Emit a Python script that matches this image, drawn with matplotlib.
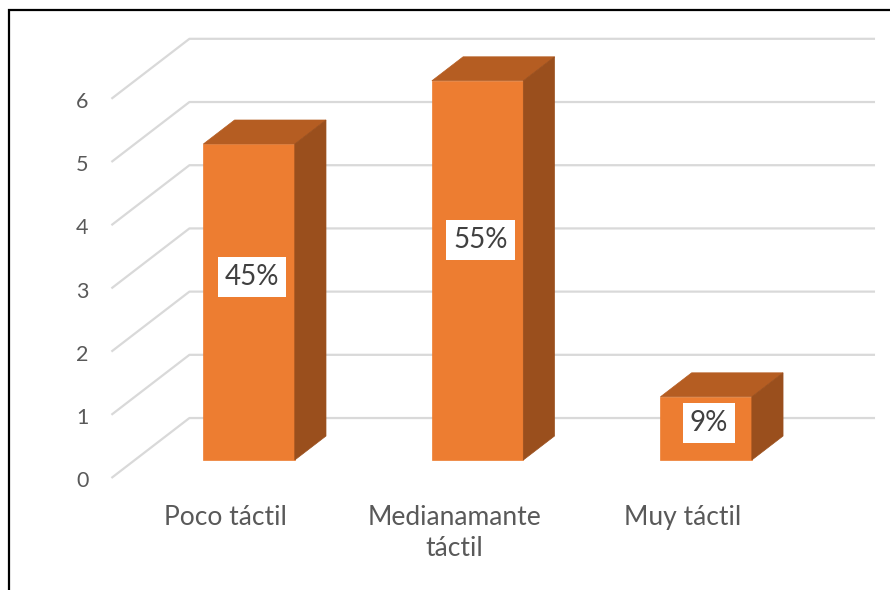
import matplotlib.pyplot as plt
from matplotlib.patches import Polygon, Rectangle

categories = ['Poco táctil', 'Medianamante\ntáctil', 'Muy táctil']
counts = [5, 6, 1]
pct_labels = ['45%', '55%', '9%']
yticks = [0, 1, 2, 3, 4, 5, 6]

plt.rcParams['font.family'] = ['Lato', 'DejaVu Sans']

# oblique projection of the floor depth, in data units
DX = 0.3414
DY = 0.949
BAR_W = 0.4
D0, D1 = 0.3, 0.7  # bar position inside the depth

FRONT = '#ED7D31'
TOP = '#B55D22'
SIDE = '#9A4F1D'
GRID = '#D9D9D9'

fig = plt.figure(figsize=(8.9, 5.9), dpi=100)
ax = fig.add_axes([0, 0, 1, 1])
ax.set_xlim(-0.9875, 2.907)
ax.set_ylim(-1.772, 7.563)
ax.axis('off')

n = len(categories)
x0, x1 = -0.5, n - 0.5

# gridlines: diagonal on the left wall, then across the back wall
for v in yticks:
    ax.plot([x0, x0 + DX, x1 + DX], [v, v + DY, v + DY],
            color=GRID, lw=1.6, zorder=1, solid_capstyle='butt')
    ax.text(x0 - 0.128, v - 0.05, str(v), ha='center', va='center',
            fontsize=15.5, color='#595959')

for i, (v, lab) in enumerate(zip(counts, pct_labels)):
    left = i - BAR_W / 2 + D0 * DX
    right = left + BAR_W
    base = D0 * DY
    dd = (D1 - D0)
    front = Rectangle((left, base), BAR_W, v, facecolor=FRONT,
                      edgecolor=FRONT, lw=0.5, zorder=3)
    top = Polygon([(left, base + v), (right, base + v),
                   (right + dd * DX, base + v + dd * DY),
                   (left + dd * DX, base + v + dd * DY)],
                  closed=True, facecolor=TOP, edgecolor=TOP, lw=0.5, zorder=3)
    side = Polygon([(right, base), (right + dd * DX, base + dd * DY),
                    (right + dd * DX, base + v + dd * DY), (right, base + v)],
                   closed=True, facecolor=SIDE, edgecolor=SIDE, lw=0.5, zorder=3)
    for p in (front, top, side):
        ax.add_patch(p)
    ax.text(left + BAR_W / 2 + 0.013, base + v * 0.58, lab,
            ha='center', va='center', fontsize=20, color='#404040', zorder=5,
            bbox=dict(boxstyle='square,pad=0.25', facecolor='white', edgecolor='none'))
    ax.text(i, -0.43, categories[i], ha='center', va='top',
            fontsize=19, color='#595959', linespacing=1.3)

# chart area frame, cut off on the right and bottom
fig.patches.append(Rectangle((9 / 890, -0.05), 1.2, 1 - 10 / 590 + 0.05,
                             transform=fig.transFigure, fill=False,
                             edgecolor='black', lw=1.6))

fig.savefig('out.png', dpi=100)
